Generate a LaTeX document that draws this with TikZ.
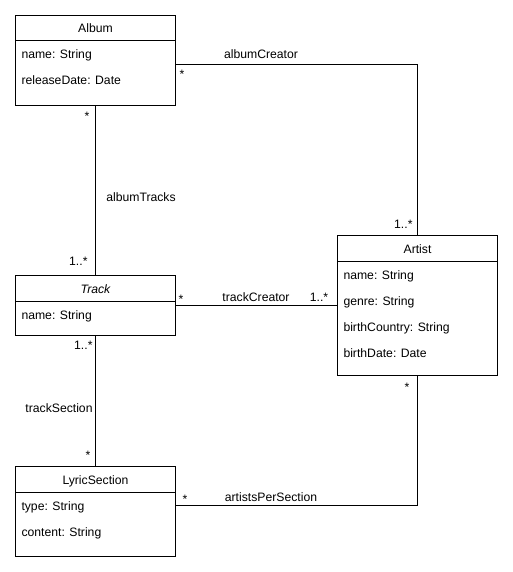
\documentclass[tikz,border=0pt]{standalone}
\usepackage{fontspec}
\setmainfont{Liberation Sans}
\usetikzlibrary{positioning,calc}

\begin{document}
\begin{tikzpicture}[x=1pt,y=-1pt,line width=1pt,font=\fontsize{12.2}{14}\selectfont,
  cls/.style={draw,anchor=north west,minimum width=160pt,minimum height=#1,inner sep=0pt},
  hdr/.style={anchor=base,inner sep=0pt},
  attr/.style={anchor=base west,inner sep=0pt},
  lbl/.style={anchor=base,inner sep=0pt},
  mul/.style={anchor=base east,inner sep=0pt}]
  \useasboundingbox (0,0) rectangle (513,572);

  % classes
  \node[cls=90pt]  (album)  at (15,15)  {};
  \node[cls=60pt]  (track)  at (15,275) {};
  \node[cls=90pt]  (lyric)  at (15,466) {};
  \node[cls=140pt] (artist) at (337,235) {};
  \foreach \c in {album,track,lyric,artist}
    \draw ($(\c.north west)+(0,26)$) -- ($(\c.north east)+(0,26)$);

  \node[hdr] (albumH) at ($(album.north)+(0,18)$) {Album};
  \node[attr] (albumA1) at ($(album.north west)+(6,44)$) {name: String};
  \node[attr] (albumA2) at ($(album.north west)+(6,70)$) {releaseDate: Date};

  \node[hdr] (trackH) at ($(track.north)+(0,18)$) {\itshape Track};
  \node[attr] (trackA1) at ($(track.north west)+(6,44)$) {name: String};

  \node[hdr] (lyricH) at ($(lyric.north)+(0,18)$) {LyricSection};
  \node[attr] (lyricA1) at ($(lyric.north west)+(6,44)$) {type: String};
  \node[attr] (lyricA2) at ($(lyric.north west)+(6,70)$) {content: String};

  \node[hdr] (artistH) at ($(artist.north)+(0,18)$) {Artist};
  \node[attr] (artistA1) at ($(artist.north west)+(6,44)$) {name: String};
  \node[attr] (artistA2) at ($(artist.north west)+(6,70)$) {genre: String};
  \node[attr] (artistA3) at ($(artist.north west)+(6,96)$) {birthCountry: String};
  \node[attr] (artistA4) at ($(artist.north west)+(6,122)$) {birthDate: Date};

  % associations
  \coordinate (acStart) at ($(album.north east)+(0,50)$);
  \coordinate (apsStart) at ($(lyric.north east)+(0,39)$);
  \draw (acStart) -| (artist.north);
  \draw (album.south) -- (track.north);
  \draw (track.east) -- (track.east -| artist.west);
  \draw (track.south) -- (lyric.north);
  \draw (apsStart) -| (artist.south);

  % labels
  \node[lbl] (acL)   at (261,59)  {albumCreator};
  \node[lbl] (acM1)  at (182,79)  {*};
  \node[mul] (acM2)  at (413,228) {1..*};
  \node[lbl] (atL)   at (141,201) {albumTracks};
  \node[lbl] (atM1)  at (87,121)  {*};
  \node[mul] (atM2)  at (88,265)  {1..*};
  \node[lbl] (tcL)   at (256,301) {trackCreator};
  \node[lbl] (tcM1)  at (181,303) {*};
  \node[lbl] (tcM2)  at (319,301) {1..*};
  \node[lbl] (tsL)   at (59,412)  {trackSection};
  \node[mul] (tsM1)  at (93,349)  {1..*};
  \node[lbl] (tsM2)  at (88,459)  {*};
  \node[lbl] (apsL)  at (271,501) {artistsPerSection};
  \node[lbl] (apsM1) at (185,503) {*};
  \node[lbl] (apsM2) at (407,391) {*};
\end{tikzpicture}
\end{document}
